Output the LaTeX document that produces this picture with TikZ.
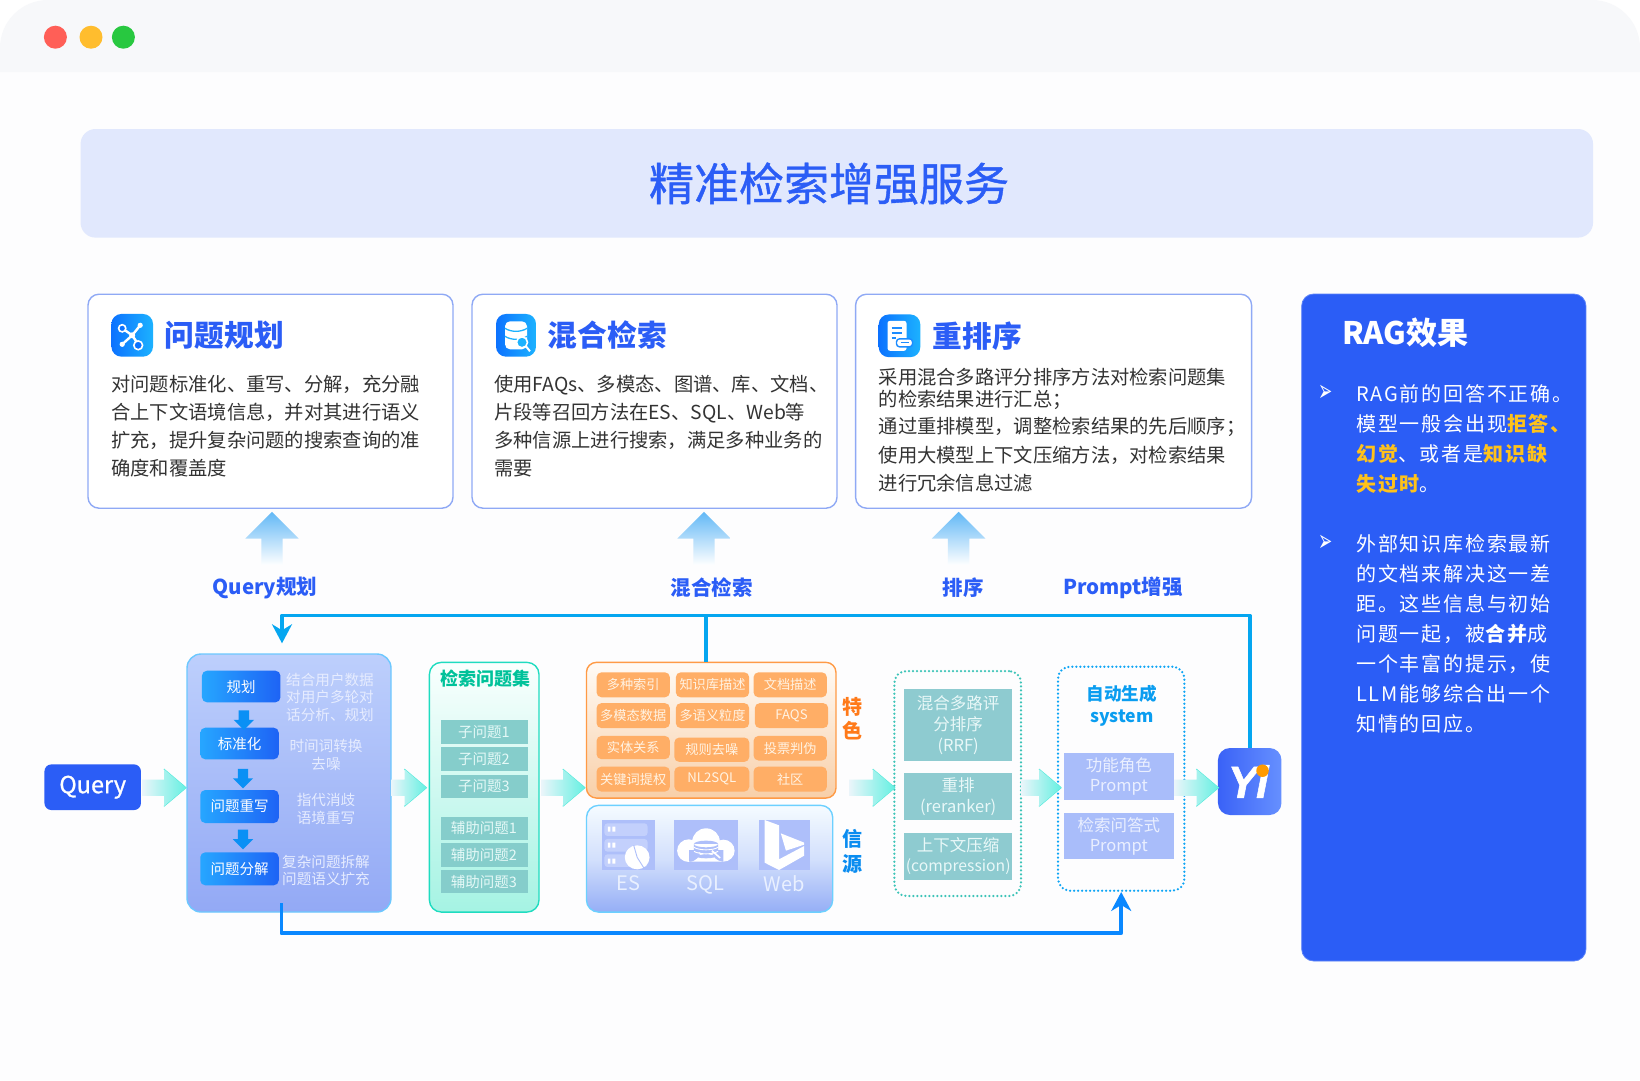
\documentclass[tikz,border=0pt]{standalone}
\usepackage{fontspec}
\setmainfont{Noto Sans CJK SC}
\newfontfamily\medfont[FakeBold=0.9]{Noto Sans CJK SC}
\newfontfamily\ragfont[LetterSpace=9, BoldFeatures={LetterSpace=9}]{Noto Sans CJK SC}
\newfontfamily\symfont{DejaVu Sans}
\newfontfamily\yifont[FakeBold=1.2]{Liberation Sans}
\usepackage{tikz}
\usetikzlibrary{arrows.meta,positioning,shapes.arrows,calc}
\definecolor{ragblue}{HTML}{2B5DF6}
\definecolor{winbar}{HTML}{F7F8FA}
\definecolor{winbg}{HTML}{FDFDFE}
\definecolor{titlebg}{HTML}{E1E8FD}
\definecolor{cardline}{HTML}{8FA9F5}
\definecolor{bodygray}{HTML}{333333}
\definecolor{linkcyan}{HTML}{05A6F0}
\definecolor{linkblue}{HTML}{0A88FF}
\definecolor{paletext}{HTML}{E6ECFF}
\definecolor{ragyellow}{HTML}{FFC21A}
\definecolor{dotred}{HTML}{FF5F57}
\definecolor{dotorange}{HTML}{FFBD2E}
\definecolor{dotgreen}{HTML}{28C840}
\definecolor{iconl}{HTML}{0C72FF}
\definecolor{iconr}{HTML}{1CB2FF}
\definecolor{iconink}{HTML}{1C8CFF}
\definecolor{uptop}{HTML}{62B8F6}
\definecolor{flowl}{HTML}{EAF5FA}
\definecolor{flowr}{HTML}{66F0E2}
\definecolor{flowedge}{HTML}{5CEBDD}
\definecolor{downblue}{HTML}{0A90F5}
\definecolor{stepl}{HTML}{26A6FF}
\definecolor{stepr}{HTML}{1E63F5}
\definecolor{plantop}{HTML}{BDCFFC}
\definecolor{planbot}{HTML}{93A9F5}
\definecolor{planline}{HTML}{6CC8FF}
\definecolor{qtop}{HTML}{FAFFFE}
\definecolor{qbot}{HTML}{A5F3E3}
\definecolor{qline}{HTML}{1FDCC0}
\definecolor{qtitle}{HTML}{00C29A}
\definecolor{qfill}{HTML}{85CDCB}
\definecolor{qtext}{HTML}{E5F9F7}
\definecolor{tagfill}{HTML}{FFAE66}
\definecolor{tagtext}{HTML}{FFF3E3}
\definecolor{feattop}{HTML}{FFFBF6}
\definecolor{featbot}{HTML}{F8CFA8}
\definecolor{featline}{HTML}{FF9A45}
\definecolor{feathead}{HTML}{FF7A1A}
\definecolor{srctop}{HTML}{F5FBFF}
\definecolor{srcmid}{HTML}{D3E0FC}
\definecolor{srcbot}{HTML}{95AEF6}
\definecolor{srcline}{HTML}{6CD0FF}
\definecolor{srchead}{HTML}{0A8CF0}
\definecolor{srcicon}{HTML}{AEBFFA}
\definecolor{srcrow}{HTML}{C3D0FC}
\definecolor{srctext}{HTML}{E9F0FF}
\definecolor{rrffill}{HTML}{8ECBD0}
\definecolor{rrftext}{HTML}{E9F8F8}
\definecolor{rrfline}{HTML}{3DC4B8}
\definecolor{promptfill}{HTML}{A9BDFA}
\definecolor{prompttext}{HTML}{EAEFFF}
\definecolor{promptline}{HTML}{0EA5F5}
\definecolor{prompthead}{HTML}{0A9DF0}
\definecolor{yil}{HTML}{3A62F7}
\definecolor{yir}{HTML}{6690FF}
\definecolor{yidot}{HTML}{FF9A00}
\definecolor{ragline}{HTML}{5C83F8}
\tikzset{
  card/.style={draw=cardline, line width=1.4pt, rounded corners=11pt, fill=white, minimum height=214, inner sep=0},
  iconbox/.style={rounded corners=10pt, left color=iconl, right color=iconr, minimum width=41.6, minimum height=42.7, inner sep=0},
  head/.style={font=\bfseries\fontsize{29.7}{32}\selectfont, text=ragblue, inner sep=0},
  body/.style={font=\fontsize{19.3}{28}\selectfont, text=bodygray, align=left, anchor=north west, inner sep=0},
  flowlabel/.style={font=\bfseries\fontsize{20.5}{24}\selectfont, text=ragblue, inner sep=0},
  uparrow/.style={single arrow, shape border rotate=90, single arrow head extend=16, single arrow tip angle=90, minimum height=53.5, inner sep=10.5, top color=uptop, bottom color=white, anchor=tail},
  flowarrow/.style={single arrow, single arrow head extend=10, single arrow tip angle=80, inner sep=8, left color=flowl, right color=flowr, anchor=tail,
    append after command={\pgfextra{\let\thisnode\tikzlastnode
      \draw[draw=flowedge, line width=1pt, line join=round] (\thisnode.before tip) -- (\thisnode.tip) -- (\thisnode.after tip);}}},
  downarrow/.style={single arrow, shape border rotate=270, single arrow head extend=5, single arrow tip angle=90, minimum height=19.7, inner sep=5, fill=downblue},
  stepbox/.style={rounded corners=5pt, left color=stepl, right color=stepr, text=white, minimum width=78.5, minimum height=31.6, inner sep=0, font=\fontsize{14.5}{17}\selectfont},
  note/.style={text=paletext, align=center, inner sep=0, font=\fontsize{14.6}{17.8}\selectfont},
  qitem/.style={fill=qfill, text=qtext, minimum width=87, minimum height=23.2, inner sep=0, font=\fontsize{14.5}{17}\selectfont},
  tag/.style={fill=tagfill, rounded corners=5pt, text=tagtext, minimum width=73.4, minimum height=25, inner sep=0, font=\fontsize{13.2}{15}\selectfont},
  srcbox/.style={fill=srcicon, minimum height=50, inner sep=0},
  srclabel/.style={text=srctext, inner sep=0, font=\fontsize{20}{22}\selectfont},
  rrfitem/.style={fill=rrffill, text=rrftext, minimum width=108.5, inner sep=0, align=center, font=\fontsize{16.5}{20.7}\selectfont},
  promptitem/.style={fill=promptfill, text=prompttext, minimum width=110.5, inner sep=0, align=center, font=\fontsize{16.5}{20.7}\selectfont},
  dotbox/.style={rounded corners=12pt, line width=2.5pt, line cap=round, dash pattern=on 0pt off 4pt},
  sidehead/.style={align=center, inner sep=0, font=\bfseries\fontsize{20}{24.5}\selectfont},
  link/.style={line width=3.7pt, line join=round},
  ragtext/.style={text=white, align=left, anchor=north west, inner sep=0, font=\ragfont\fontsize{20}{30}\selectfont},
  ragmark/.style={text=white, inner sep=0, font=\symfont\fontsize{17}{20}\selectfont},
}
\newcommand{\hotword}[1]{{\bfseries\color{ragyellow}#1}}
\begin{document}
\begin{tikzpicture}[x=1pt, y=-1pt]
  \useasboundingbox (0,0) rectangle (1640,1080);
  \fill[white] (0,0) rectangle (1640,1080);
  \fill[winbg] (0,72) rectangle (1640,1080);
  \fill[winbar] (0,72) [rounded corners=48pt] -- (0,0) -- (1640,0) [sharp corners] -- (1640,72) -- cycle;
  \fill[dotred] (55.4,37.2) circle (11.5);
  \fill[dotorange] (91,37.2) circle (11.5);
  \fill[dotgreen] (123.4,37.2) circle (11.5);

  \node[fill=titlebg, rounded corners=15pt, minimum width=1512.5, minimum height=108.6] (titlebar) at (836.8,183.3) {};
  \node[font=\medfont\fontsize{45}{50}\selectfont, text=ragblue, inner sep=0] (title) at (829,183.5) {精准检索增强服务};

  \node[card, minimum width=365] (card1) at (270.5,401.2) {};
  \node[card, minimum width=365, right=17.6pt of card1] (card2) {};
  \node[card, minimum width=396, right=17.2pt of card2] (card3) {};

  \node[iconbox] (icon1) at (132.2,335.3) {};
  \node[iconbox, minimum width=40] (icon2) at (516,335.3) {};
  \node[iconbox] (icon3) at (899.5,335.8) {};
  \node[head, right=11.5pt of icon1] (head1) {问题规划};
  \node[head, right=11.5pt of icon2] (head2) {混合检索};
  \node[head, right=12pt of icon3] (head3) {重排序};

  \begin{scope}[shift={(icon1.center)}]
    \draw[white, line width=2.4pt] (-10,-7) -- (0,0) -- (8,-10) (-10,9) -- (0,0) -- (6,9);
    \draw[white, line width=1.6pt, fill=iconl] (-10,-7) circle (3.6) (6,10) circle (4.4);
    \fill[white] (0,0) circle (3) (8,-10) circle (2.6) (-10,9) circle (2.6);
  \end{scope}
  \begin{scope}[shift={(icon2.center)}]
    \fill[white, rounded corners=5pt] (-11,-14) rectangle (11,14);
    \draw[iconr, line width=1.3pt] (-11,-7) .. controls (-5,-3) and (5,-3) .. (11,-7) (-11,1) .. controls (-5,5) and (5,5) .. (11,1);
    \draw[white, fill=iconr, line width=1.6pt] (6,7) circle (5.5);
    \draw[white, line width=2pt] (10,11) -- (14,16);
  \end{scope}
  \begin{scope}[shift={(icon3.center)}]
    \fill[white, rounded corners=2.5pt] (-12,-15) rectangle (7,15);
    \draw[iconink, line width=1.8pt] (-8,-8) -- (2,-8) (-8,-3) -- (2,-3) (-8,2) -- (-4,2);
    \draw[iconink, fill=white, rounded corners=3pt, line width=1.4pt] (-3,3) rectangle (13,11);
    \draw[iconink, line width=1.2pt] (1,7) -- (9,7);
  \end{scope}

  \node[body] (text1) at (111,374.5) {对问题标准化、重写、分解，充分融\\合上下文语境信息，并对其进行语义\\扩充，提升复杂问题的搜索查询的准\\确度和覆盖度};
  \node[body] (text2) at (494,374.5) {使用FAQs、多模态、图谱、库、文档、\\片段等召回方法在ES、SQL、Web等\\多种信源上进行搜索，满足多种业务的\\需要};
  \node[body] (text3) at (878.5,368) {采用混合多路评分排序方法对检索问题集\\[-5.7pt]的检索结果进行汇总；\\[-1.4pt]通过重排模型，调整检索结果的先后顺序；\\[0.8pt]使用大模型上下文压缩方法，对检索结果\\进行冗余信息过滤};

  \node[uparrow] (up1) at (272,565.5) {};
  \node[uparrow] (up2) at (704,565.5) {};
  \node[uparrow] (up3) at (958.6,565.5) {};
  \node[flowlabel] (lab1) at (265,588) {Query规划};
  \node[flowlabel] (lab2) at (711.5,587.5) {混合检索};
  \node[flowlabel] (lab3) at (963,587.5) {排序};
  \node[flowlabel] (lab4) at (1123,588) {Prompt增强};

  \node[fill=ragblue, rounded corners=7pt, text=white, minimum width=96.5, minimum height=45.7, inner sep=0, font=\medfont\fontsize{23.5}{28}\selectfont] (query) at (92.7,787.2) {\raisebox{-1.5pt}{Query}};

  \node[rounded corners=14pt, top color=plantop, bottom color=planbot, draw=planline, line width=1.4pt, minimum width=204, minimum height=258, inner sep=0] (plan) at (289,783) {};
  \node[stepbox] (plana) at (241.2,686.5) {规划};
  \node[stepbox] (planb) at (239.5,743.5) {标准化};
  \node[stepbox, minimum height=33] (planc) at (239.5,806.5) {问题重写};
  \node[stepbox, minimum height=33] (pland) at (239.5,868.8) {问题分解};
  \node[downarrow] (downa) at (243.8,717.5) {};
  \node[downarrow] (downb) at (243,776) {};
  \node[downarrow] (downc) at (243,836.8) {};
  \node[note] (notea) at (330,697.3) {结合用户数据\\对用户多轮对\\话分析、规划};
  \node[note] (noteb) at (326,754.8) {时间词转换\\去噪};
  \node[note] (notec) at (326,809.3) {指代消歧\\语境重写};
  \node[note] (noted) at (326,870.5) {复杂问题拆解\\问题语义扩充};

  \node[rounded corners=12pt, top color=qtop, bottom color=qbot, draw=qline, line width=1.4pt, minimum width=109.6, minimum height=249.7, inner sep=0] (qset) at (484.2,787.2) {};
  \node[inner sep=0, text=qtitle, font=\bfseries\fontsize{18}{20}\selectfont] (qsettitle) at (485,678.7) {检索问题集};
  \node[qitem] (qa) at (484,731.9) {子问题1};
  \node[qitem, below=3.5pt of qa] (qb) {子问题2};
  \node[qitem, below=3.5pt of qb] (qc) {子问题3};
  \node[qitem, below=18.5pt of qc] (qd) {辅助问题1};
  \node[qitem, below=3.1pt of qd] (qe) {辅助问题2};
  \node[qitem, below=3.1pt of qe] (qf) {辅助问题3};

  \node[rounded corners=10pt, top color=feattop, bottom color=featbot, draw=featline, line width=1.4pt, minimum width=249.5, minimum height=135.7, inner sep=0] (feat) at (711.2,730.2) {};
  \node[tag] (t11) at (633.2,684.8) {多种索引};
  \node[tag, right=5.5pt of t11] (t12) {知识库描述};
  \node[tag, right=3.9pt of t12] (t13) {文档描述};
  \node[tag, below=5.4pt of t11] (t21) {多模态数据};
  \node[tag, below=5.4pt of t12] (t22) {多语义粒度};
  \node[tag, below=5.4pt of t13, xshift=1.3pt] (t23) {FAQS};
  \node[tag, below=7.4pt of t21, minimum height=23.3] (t31) {实体关系};
  \node[tag, below=9pt of t22, xshift=-0.7pt, minimum width=75, minimum height=24.4] (t32) {规则去噪};
  \node[tag, below=7.4pt of t23, xshift=-1.3pt, minimum height=24.6] (t33) {投票判伪};
  \node[tag, below=7pt of t31] (t41) {关键词提权};
  \node[tag, below=4.3pt of t32, minimum width=75] (t42) {NL2SQL};
  \node[tag, below=5.7pt of t33] (t43) {社区};
  \node[sidehead, text=feathead] (feathd) at (852.4,718.5) {特\\色};

  \node[rounded corners=12pt, top color=srctop, bottom color=srcbot, middle color=srcmid, draw=srcline, line width=1.4pt, minimum width=246.2, minimum height=106.7, inner sep=0] (src) at (709.6,858.7) {};
  \node[srcbox, minimum width=53.3] (es) at (628.3,845) {};
  \node[srcbox, minimum width=63.7] (sql) at (705.8,845) {};
  \node[srcbox, minimum width=50.7] (web) at (784.3,845) {};
  \node[srclabel, below=5.5pt of es] (eslab) {ES};
  \node[srclabel, below=5.5pt of sql] (sqllab) {SQL};
  \node[srclabel, below=5.5pt of web] (weblab) {Web};
  \node[sidehead, text=srchead] (srchd) at (852.4,851.3) {信\\源};
  \begin{scope}[shift={(570,620)}, x=0.3444pt, y=-0.3333pt]
    \fill[srcrow, rounded corners=3pt] (100,610) rectangle (225,648) (100,657) rectangle (225,695) (100,703) rectangle (225,741);
    \fill[white] (110,620) rectangle (117,635) (123,620) rectangle (132,635) (110,668) rectangle (117,683) (123,668) rectangle (132,683) (110,716) rectangle (117,731) (123,716) rectangle (132,731);
    \fill[white] (195,712) circle (36);
    \draw[srcicon, line width=0.9pt] (185,676) -- (195,712) -- (215,745);
    \fill[white] (345,692) circle (34) (395,665) circle (40) (445,692) circle (33) (345,690) rectangle (445,725);
    \fill[srcicon] (395,672) circle (35 and 10) (360,672) rectangle (430,705) (395,705) circle (35 and 10);
    \draw[white, line width=0.9pt] (360,682) .. controls (375,692) and (415,692) .. (430,682) (360,694) .. controls (375,704) and (415,704) .. (430,694);
    \draw[white, line width=1.6pt] (412,692) -- (436,714);
    \fill[white] (565,600) -- (607,616) -- (607,718) -- (680,678) -- (680,707) -- (607,750) -- (565,728) -- cycle;
    \fill[white] (612,640) -- (680,668) -- (680,674) -- (627,692) -- cycle;
  \end{scope}

  \node[dotbox, draw=rrfline, minimum width=126.6, minimum height=225, inner sep=0] (rrf) at (957.7,783.5) {};
  \node[rrfitem, minimum height=72] (rrfa) at (958.2,725) {混合多路评\\分排序\\(RRF)};
  \node[rrfitem, minimum height=47, below=12pt of rrfa] (rrfb) {重排\\(reranker)};
  \node[rrfitem, minimum height=46.7, below=12pt of rrfb] (rrfc) {上下文压缩\\{\fontsize{15.7}{20.7}\selectfont (compression)}};

  \node[dotbox, draw=promptline, minimum width=126.4, minimum height=224, inner sep=0] (prompt) at (1121.2,778.7) {};
  \node[inner sep=0, align=center, text=prompthead, font=\bfseries\fontsize{17.6}{22}\selectfont] (prompthd) at (1121.8,705.6) {自动生成\\system};
  \node[promptitem, minimum height=47] (pa) at (1118.8,776.5) {功能角色\\Prompt};
  \node[promptitem, minimum height=45.7, below=13pt of pa] (pb) {检索问答式\\Prompt};

  \node[rounded corners=12pt, left color=yil, right color=yir, minimum width=63.5, minimum height=67, inner sep=0, text=white, font=\yifont\bfseries\itshape\fontsize{45}{48}\selectfont] (yi) at (1249.7,781.5) {\kern-3pt Yi};
  \node[circle, fill=yidot, minimum size=12.5, inner sep=0] (yispot) at (1262.5,770.7) {};

  \node[flowarrow, minimum height=43.6] (arra) at (142,787.7) {};
  \node[flowarrow, minimum height=35] (arrb) at (391,787.7) {};
  \node[flowarrow, minimum height=43.5] (arrc) at (541,787.7) {};
  \node[flowarrow, minimum height=45.4] (arrd) at (849,787.7) {};
  \node[flowarrow, minimum height=39.7] (arre) at (1021,787.7) {};
  \node[flowarrow, minimum height=44] (arrf) at (1174,787.7) {};

  \coordinate (toprail) at (900,615.4);
  \coordinate (planin) at (282,643.3);
  \coordinate (tap) at (705.7,615.4);
  \coordinate (planout) at (281.4,903.3);
  \coordinate (botrail) at (700,933.3);
  \draw[link, draw=linkcyan, -{Stealth[length=19pt, width=20pt, inset=6pt]}] (yi.north) -- (yi.north |- toprail) -- (planin |- toprail) -- (planin);
  \draw[link, draw=linkcyan] (tap) -- (tap |- feat.north);
  \draw[link, draw=linkblue, -{Stealth[length=19pt, width=20pt, inset=6pt]}] (planout) -- (planout |- botrail) -- (prompt.south |- botrail) -- (prompt.south);

  \node[fill=ragblue, draw=ragline, line width=0.8pt, rounded corners=12pt, minimum width=284.3, minimum height=667, inner sep=0] (rag) at (1443.8,627.5) {};
  \node[anchor=west, text=white, inner sep=0, font=\bfseries\fontsize{31}{34}\selectfont] (ragtitle) at (1342,333) {RAG效果};
  \node[ragmark] (marka) at (1326,393) {\scalebox{1}[1.8]{➢}};
  \node[ragmark] (markb) at (1326,543.8) {\scalebox{1}[1.8]{➢}};
  \node[ragtext] (ragone) at (1356,384.3) {RAG前的回答不正确。\\模型一般会出现\hotword{拒答、}\\\hotword{幻觉}、或者是\hotword{知识缺}\\\hotword{失过时}。};
  \node[ragtext] (ragtwo) at (1356,534.5) {外部知识库检索最新\\的文档来解决这一差\\距。这些信息与初始\\问题一起，被{\bfseries 合并}成\\一个丰富的提示，使\\LLM能够综合出一个\\知情的回应。};
\end{tikzpicture}
\end{document}
